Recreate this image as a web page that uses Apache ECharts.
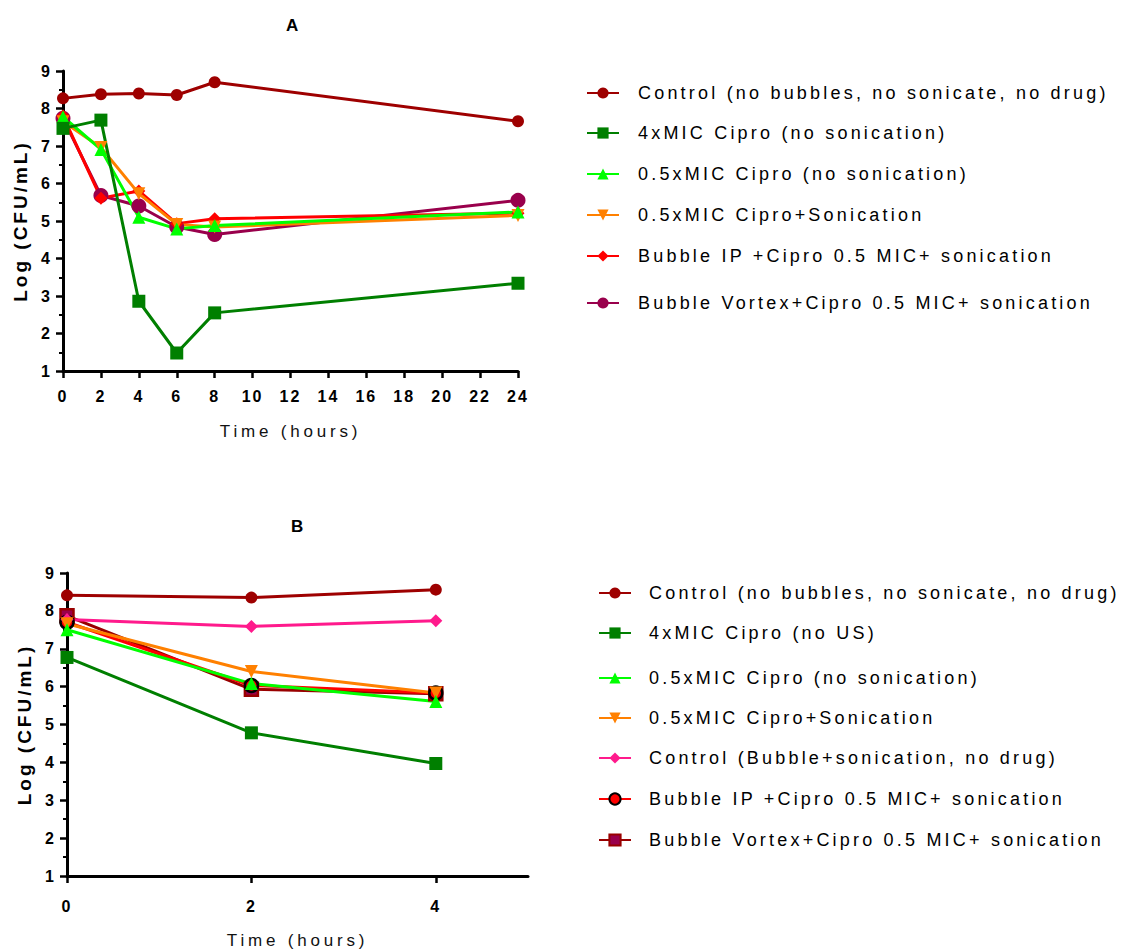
<!DOCTYPE html>
<html>
<head>
<meta charset="utf-8">
<title>Time-kill curves</title>
<script src="https://cdn.jsdelivr.net/npm/echarts@6/dist/echarts.min.js"></script>
<style>
  html, body { margin: 0; padding: 0; background: #fff; }
  .panel { width: 1122px; height: 475px; }
  /* tracked (letter-spaced) text, keyed by font size */
  .panel text[style*="18px"] { letter-spacing: 3.2px; }  /* legend entries */
  .panel text[style*="16px"] { letter-spacing: 2px; }    /* tick labels */
  .panel text[style*="19px"] { letter-spacing: 3px; }    /* y axis name */
  .panel text[style*="17px"] { letter-spacing: 3.8px; }  /* x axis name */
</style>
</head>
<body>
<div id="chartA" class="panel"></div>
<div id="chartB" class="panel"></div>
<script>
// ---- Panel A: log CFU/mL over 24 h ----
const timeA = [0, 2, 4, 6, 8, 24];
const controlA      = [8.27, 8.38, 8.40, 8.36, 8.70, 7.66];
const mic4A         = [7.47, 7.69, 2.86, 1.48, 2.55, 3.34];
const mic05A        = [7.78, 6.91, 5.10, 4.79, 4.88, 5.24];
const mic05SonA     = [7.65, 6.96, 5.73, 4.91, 4.84, 5.15];
const bubbleIPA     = [7.80, 5.61, 5.80, 4.93, 5.06, 5.21];
const bubbleVortexA = [7.74, 5.68, 5.40, 4.84, 4.64, 5.55];

// ---- Panel B: log CFU/mL over 4 h ----
const timeB = [0, 2, 4];
const xTicksB = [0, 2, 4];
const controlB       = [8.41, 8.35, 8.56];
const mic4B          = [6.77, 4.78, 3.97];
const mic05B         = [7.50, 6.08, 5.61];
const mic05SonB      = [7.66, 6.40, 5.83];
const controlBubbleB = [7.77, 7.59, 7.74];
const bubbleIPB      = [7.70, 6.03, 5.83];
const bubbleVortexB  = [7.87, 5.93, 5.81];

const namesA = [
  'Control (no bubbles, no sonicate, no drug)',
  '4xMIC Cipro (no sonication)',
  '0.5xMIC Cipro (no sonication)',
  '0.5xMIC Cipro+Sonication',
  'Bubble IP +Cipro 0.5 MIC+ sonication',
  'Bubble Vortex+Cipro 0.5 MIC+ sonication'
];
const namesB = [
  'Control (no bubbles, no sonicate, no drug)',
  '4xMIC Cipro (no US)',
  '0.5xMIC Cipro (no sonication)',
  '0.5xMIC Cipro+Sonication',
  'Control (Bubble+sonication, no drug)',
  'Bubble IP +Cipro 0.5 MIC+ sonication',
  'Bubble Vortex+Cipro 0.5 MIC+ sonication'
];

const FONT = '"Liberation Sans", Arial, Helvetica, sans-serif';
const C = {
  control: '#9E0000', mic4: '#007F00', mic05: '#00FF00', son: '#FF8000',
  red: '#FF0000', purple: '#99004C', pink: '#FF1A8C', black: '#000000'
};

function pair(xs, ys) { return xs.map((x, i) => [x, ys[i]]); }

function line(name, xs, ys, color, symbol, size, extra) {
  return Object.assign({
    type: 'line', name: name, data: pair(xs, ys),
    symbol: symbol, symbolSize: size,
    lineStyle: { color: color, width: 3 },
    itemStyle: { color: color, opacity: 1 },
    emphasis: { disabled: true },
    animation: false
  }, extra || {});
}

function legendRows(names, rows, left, textPad) {
  return names.map((n, i) => ({
    data: [n], orient: 'vertical', left: left, top: rows[i] - 10,
    padding: 0, itemWidth: 32, itemHeight: 14, selectedMode: false,
    textStyle: { fontFamily: FONT, fontSize: 18, color: '#000', lineHeight: 20, padding: [0, 0, 0, textPad] }
  }));
}

const tickLabel = { fontFamily: FONT, fontSize: 16, fontWeight: 'bold', color: C.black };

function yAxisCfg() {
  return {
    type: 'value', min: 1, max: 9, interval: 1,
    axisLine: { show: true, onZero: false, lineStyle: { color: C.black, width: 3 } },
    axisTick: { show: true, length: 7, lineStyle: { color: C.black, width: 2.5 } },
    minorTick: { show: true, splitNumber: 2, length: 4, lineStyle: { color: C.black, width: 2 } },
    splitLine: { show: false },
    axisLabel: Object.assign({ margin: 11 }, tickLabel),
    name: 'Log (CFU/mL)', nameLocation: 'middle', nameGap: 33,
    nameTextStyle: { fontFamily: FONT, fontSize: 19, fontWeight: 'bold', color: C.black }
  };
}

function xAxisCfg(extra, nameGap) {
  return Object.assign({
    type: 'value',
    axisLine: { show: true, onZero: false, lineStyle: { color: C.black, width: 3 } },
    axisTick: { show: true, length: 7, lineStyle: { color: C.black, width: 2.5 } },
    splitLine: { show: false },
    name: 'Time (hours)', nameLocation: 'middle', nameGap: nameGap,
    nameTextStyle: { fontFamily: FONT, fontSize: 17, color: '#111' }
  }, extra);
}

// ---- Chart A ----
const chartA = echarts.init(document.getElementById('chartA'), null, { renderer: 'svg' });
chartA.setOption({
  animation: false,
  title: { text: 'A', left: 289, top: 12, textAlign: 'center',
           textStyle: { fontFamily: FONT, fontSize: 17, fontWeight: 'bold', color: C.black } },
  grid: { left: 63, top: 71, width: 455, height: 300, containLabel: false, outerBoundsMode: 'none' },
  xAxis: xAxisCfg({
    min: 0, max: 24, interval: 2,
    axisLabel: Object.assign({ margin: 17 }, tickLabel)
  }, 52),
  yAxis: yAxisCfg(),
  legend: legendRows(namesA, [93, 133, 174, 215, 256, 303], 586, 14),
  // drawn back-to-front so the earlier legend entries sit on top
  series: [
    line(namesA[5], timeA, bubbleVortexA, C.purple, 'circle', 15),
    line(namesA[4], timeA, bubbleIPA, C.red, 'diamond', 13),
    line(namesA[3], timeA, mic05SonA, C.son, 'triangle', 13, { symbolRotate: 180 }),
    line(namesA[2], timeA, mic05A, C.mic05, 'triangle', 13),
    line(namesA[1], timeA, mic4A, C.mic4, 'rect', 13),
    line(namesA[0], timeA, controlA, C.control, 'circle', 12)
  ]
});

// ---- Chart B ----
const chartB = echarts.init(document.getElementById('chartB'), null, { renderer: 'svg' });
chartB.setOption({
  animation: false,
  title: { text: 'B', left: 294, top: 38, textAlign: 'center',
           textStyle: { fontFamily: FONT, fontSize: 17, fontWeight: 'bold', color: C.black } },
  grid: { left: 67, top: 98, width: 461, height: 303, containLabel: false, outerBoundsMode: 'none' },
  xAxis: xAxisCfg({
    min: 0, max: 5,
    axisTick: { show: true, length: 7, customValues: xTicksB, lineStyle: { color: C.black, width: 2.5 } },
    axisLabel: Object.assign({ margin: 22, customValues: xTicksB }, tickLabel)
  }, 56),
  yAxis: yAxisCfg(),
  legend: legendRows(namesB, [118, 158, 203, 243, 283, 324, 365], 598, 13),
  series: [
    line(namesB[6], timeB, bubbleVortexB, '#990000', 'rect', 13,
         { itemStyle: { color: C.purple, borderColor: '#990000', borderWidth: 2.5, opacity: 1 } }),
    line(namesB[5], timeB, bubbleIPB, C.red, 'circle', 13,
         { itemStyle: { color: C.red, borderColor: C.black, borderWidth: 2.5, opacity: 1 } }),
    line(namesB[4], timeB, controlBubbleB, C.pink, 'diamond', 13),
    line(namesB[3], timeB, mic05SonB, C.son, 'triangle', 13, { symbolRotate: 180 }),
    line(namesB[2], timeB, mic05B, C.mic05, 'triangle', 13),
    line(namesB[1], timeB, mic4B, C.mic4, 'rect', 13),
    line(namesB[0], timeB, controlB, C.control, 'circle', 12)
  ]
});
</script>
</body>
</html>
